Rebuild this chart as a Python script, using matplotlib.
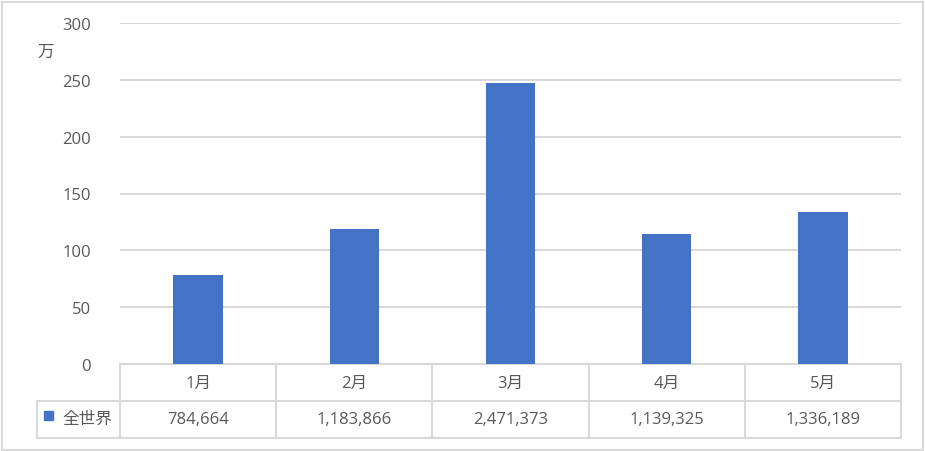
import matplotlib.pyplot as plt
from matplotlib.patches import Rectangle

plt.rcParams['font.family'] = ['Open Sans', 'Noto Sans CJK JP', 'DejaVu Sans']

#=========================================#
months = ['1月', '2月', '3月', '4月', '5月']
counts = [784664, 1183866, 2471373, 1139325, 1336189]
series_name = '全世界'
yticks = [0, 50, 100, 150, 200, 250, 300]
#=========================================#

BAR = '#4472C4'
GRID = '#d9d9d9'
TXT = '#595959'
FS = 12

W, H = 925, 452
fig = plt.figure(figsize=(W / 100, H / 100), dpi=100)
ax = fig.add_axes([120 / W, (H - 365) / H, (901 - 120) / W, (365 - 24) / H])

x = list(range(len(months)))
vals = [c / 10000 for c in counts]
ax.bar(x, vals, width=0.315, color=BAR, zorder=3)

ax.set_xlim(-0.5, len(months) - 0.5)
ax.set_ylim(0, 300)
ax.set_yticks(yticks)
ax.set_yticklabels([str(t) for t in yticks], color=TXT, fontsize=FS)
ax.tick_params(axis='y', length=0, pad=21)
ax.set_xticks([])
ax.grid(axis='y', color=GRID, linewidth=1.5, zorder=0)
for s in ax.spines.values():
    s.set_visible(False)

# unit label
fig.text(46 / W, 1 - 53 / H, '万', color=TXT, fontsize=FS, ha='center', va='center')

# data table below the axis
tr = ax.get_xaxis_transform()
row = 37 / 341
lw = 1.5
for i in range(len(months) + 1):
    ax.plot([i - 0.5, i - 0.5], [0, -2 * row], transform=tr, color=GRID,
            lw=lw, clip_on=False, zorder=1)
for yy in [0, -row, -2 * row]:
    ax.plot([-0.5, len(months) - 0.5], [yy, yy], transform=tr, color=GRID,
            lw=lw, clip_on=False, zorder=1)
for i, (m, c) in enumerate(zip(months, counts)):
    ax.text(i, -row / 2, m, transform=tr, ha='center', va='center',
            color=TXT, fontsize=FS)
    ax.text(i, -1.5 * row, f'{c:,}', transform=tr, ha='center', va='center',
            color=TXT, fontsize=FS)

# legend cell
lx0 = 37 / W
for xs, ys in [([lx0, 120 / W], [1 - 402 / H, 1 - 402 / H]),
               ([lx0, 120 / W], [1 - 439 / H, 1 - 439 / H]),
               ([lx0, lx0], [1 - 402 / H, 1 - 439 / H])]:
    fig.lines.append(plt.Line2D(xs, ys, color=GRID, lw=lw, transform=fig.transFigure))
fig.patches.append(Rectangle((44 / W, 1 - 421 / H), 9 / W, 9 / H, color=BAR,
                             transform=fig.transFigure))
fig.text(87 / W, 1 - 420 / H, series_name, color=TXT, fontsize=FS,
         ha='center', va='center')

# outer chart border
fig.patches.append(Rectangle((1.5 / W, 1.5 / H), (W - 4) / W, (H - 4) / H, fill=False,
                             edgecolor=GRID, lw=1.5, transform=fig.transFigure))

plt.savefig('out.png', dpi=100)
